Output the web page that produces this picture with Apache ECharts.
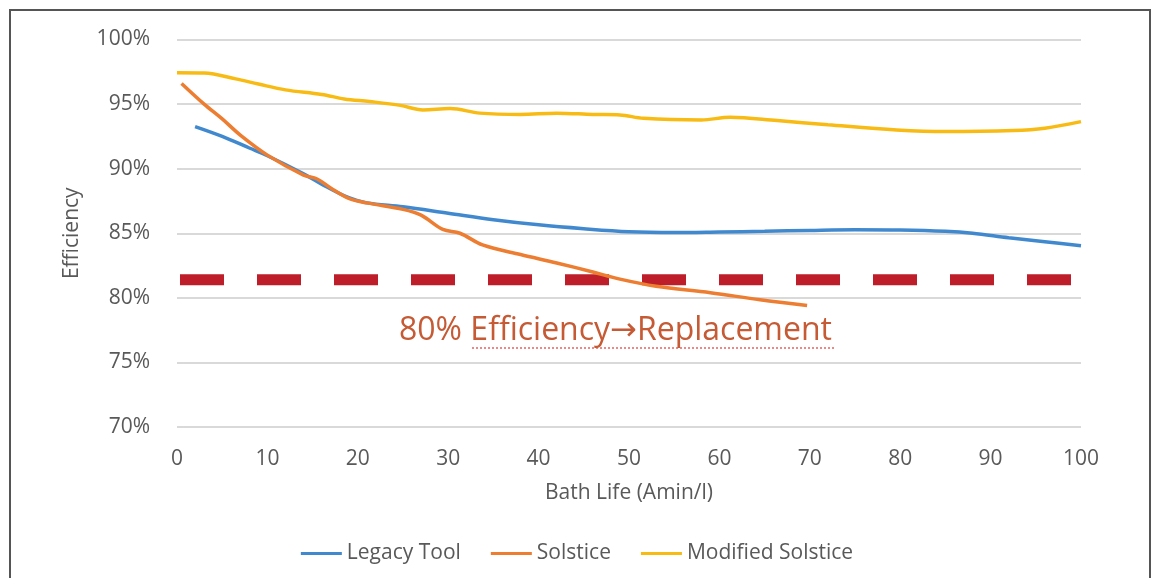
<!DOCTYPE html>
<html>
<head>
<meta charset="utf-8">
<script src="https://cdn.jsdelivr.net/npm/echarts@6/dist/echarts.min.js"></script>
<style>
html,body{margin:0;padding:0;background:#fff;}
#chart{width:1154px;height:578px;}
</style>
</head>
<body>
<div id="chart"></div>
<script>
// ---- Data ----
const seriesNames = ['Legacy Tool', 'Solstice', 'Modified Solstice'];

const legacyX = [2, 5, 8, 10, 14, 16, 19, 21, 25, 30, 35, 40, 45, 50, 55, 60, 65, 70, 75, 80, 85, 88, 92, 96, 100];
const legacyY = [93.26, 92.5, 91.6, 91.0, 89.6, 88.8, 87.75, 87.35, 87.05, 86.55, 86.05, 85.65, 85.35, 85.12, 85.06, 85.1, 85.15, 85.22, 85.27, 85.25, 85.15, 85.0, 84.65, 84.35, 84.03];

const solsticeX = [0.5, 3, 5, 7, 10, 14, 15.5, 17, 19, 21, 25, 27, 29.4, 31.3, 33.8, 38, 42, 46, 49, 53, 59, 64.5, 69.7];
const solsticeY = [96.6, 95.0, 93.85, 92.6, 91.05, 89.5, 89.2, 88.5, 87.7, 87.35, 86.85, 86.4, 85.3, 85.0, 84.1, 83.35, 82.7, 82.0, 81.45, 80.9, 80.4, 79.85, 79.4];

const modifiedX = [0, 3, 6.5, 9, 12, 16, 18.5, 21.3, 24.7, 27.2, 30.2, 33.5, 38, 42, 46, 49, 51.6, 58, 61.2, 66.4, 72, 79.6, 85, 92.5, 96, 100];
const modifiedY = [97.43, 97.4, 96.95, 96.55, 96.1, 95.75, 95.4, 95.2, 94.9, 94.55, 94.65, 94.3, 94.2, 94.3, 94.2, 94.16, 93.9, 93.77, 93.98, 93.72, 93.4, 93.0, 92.87, 92.95, 93.13, 93.64];

const thresholdX = [0, 100];
const thresholdY = 81.4;

const annotationText = '80% Efficiency\u2192Replacement';
const xAxisTitle = 'Bath Life (Amin/l)';
const yAxisTitle = 'Efficiency';

// ---- Build ----
function pairs(xs, ys) { return xs.map((x, i) => [x, ys[i]]); }

const colors = ['#4189cf', '#ed7d31', '#f8bb14'];
const font = '"Open Sans", sans-serif';

const chart = echarts.init(document.getElementById('chart'), null, {renderer: 'canvas'});
chart.setOption({
  animation: false,
  backgroundColor: '#ffffff',
  grid: {left: 177, right: 73, top: 39.5, bottom: 151, containLabel: false},
  legend: {
    data: seriesNames,
    left: 'center',
    top: 538,
    icon: 'rect',
    itemWidth: 41,
    itemHeight: 3,
    itemGap: 30,
    textStyle: {color: '#595959', fontSize: 21, fontFamily: font}
  },
  xAxis: {
    type: 'value',
    min: 0, max: 100, interval: 10,
    name: xAxisTitle,
    nameLocation: 'middle',
    nameGap: 56,
    nameTextStyle: {color: '#595959', fontSize: 21, fontFamily: font},
    axisLine: {show: false},
    axisTick: {show: false},
    axisLabel: {color: '#595959', fontSize: 21, fontFamily: font, margin: 22},
    splitLine: {show: false}
  },
  yAxis: {
    type: 'value',
    min: 70, max: 100, interval: 5,
    name: yAxisTitle,
    nameLocation: 'middle',
    nameGap: 94,
    nameTextStyle: {color: '#595959', fontSize: 21, fontFamily: font},
    axisLine: {show: false},
    axisTick: {show: false},
    axisLabel: {color: '#595959', fontSize: 21, fontFamily: font, margin: 27, formatter: '{value}%'},
    splitLine: {show: true, lineStyle: {color: '#d9d9d9', width: 2}}
  },
  series: [
    {
      name: seriesNames[0], type: 'line', smooth: 0.35, showSymbol: false, symbol: 'none',
      data: pairs(legacyX, legacyY), z: 3,
      lineStyle: {color: colors[0], width: 3.5}, itemStyle: {color: colors[0]}
    },
    {
      name: seriesNames[1], type: 'line', smooth: 0.35, showSymbol: false, symbol: 'none',
      data: pairs(solsticeX, solsticeY), z: 4,
      lineStyle: {color: colors[1], width: 3.5}, itemStyle: {color: colors[1]}
    },
    {
      name: seriesNames[2], type: 'line', smooth: 0.35, showSymbol: false, symbol: 'none',
      data: pairs(modifiedX, modifiedY), z: 3,
      lineStyle: {color: colors[2], width: 3.5}, itemStyle: {color: colors[2]}
    },
    {
      name: 'threshold', type: 'line', symbol: 'none', silent: true, z: 2,
      data: thresholdX.map(x => [x, thresholdY]),
      lineStyle: {color: '#be1e2a', width: 11, type: [44, 33], dashOffset: 74, cap: 'butt'}
    }
  ],
  graphic: [
    {
      type: 'rect', silent: true, z: 100,
      shape: {x: 10, y: 10, width: 1140, height: 600},
      style: {fill: 'none', stroke: '#555555', lineWidth: 2}
    },
    {
      type: 'text', silent: true, z: 50,
      left: 399, top: 315,
      style: {text: annotationText, fill: '#c55a34', font: '32px "Open Sans", "DejaVu Sans", sans-serif'}
    },
    {
      type: 'line', silent: true, z: 49,
      shape: {x1: 472, y1: 348, x2: 835, y2: 348},
      style: {stroke: '#e03a3a', lineWidth: 1.5, lineDash: [2, 2], opacity: 0.8}
    }
  ]
});
</script>
</body>
</html>
